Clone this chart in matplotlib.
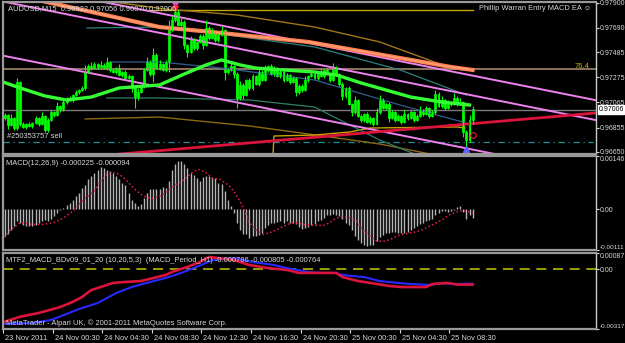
import numpy as np
import matplotlib
matplotlib.use("Agg")
from matplotlib import pyplot as plt
from matplotlib import transforms

plt.rcParams['font.family'] = ['Liberation Sans', 'DejaVu Sans']

# ---- price data (AUDUSD M15) ----
first_open = 0.96935
close = [0.96960, 0.96876, 0.96935, 0.96851, 0.97237, 0.96885, 0.96860, 0.96885, 0.96868, 0.96893,
         0.96935, 0.96885, 0.96952, 0.96834, 0.96918, 0.96985, 0.96960, 0.97036, 0.97002, 0.97069,
         0.97103, 0.97086, 0.97128, 0.97153, 0.97170, 0.97187, 0.97321, 0.97371, 0.97354, 0.97388,
         0.97363, 0.97380, 0.97354, 0.97405, 0.97338, 0.97321, 0.97354, 0.97296, 0.97321, 0.97271,
         0.97287, 0.97187, 0.97103, 0.97153, 0.97203, 0.97338, 0.97405, 0.97304, 0.97464, 0.97354,
         0.97388, 0.97338, 0.97405, 0.97673, 0.97757, 0.97824, 0.97715, 0.97740, 0.97547, 0.97489,
         0.97589, 0.97522, 0.97573, 0.97623, 0.97547, 0.97690, 0.97606, 0.97657, 0.97589, 0.97631,
         0.97673, 0.97321, 0.97338, 0.97371, 0.97304, 0.97103, 0.97212, 0.97128, 0.97254, 0.97187,
         0.97287, 0.97220, 0.97321, 0.97254, 0.97338, 0.97371, 0.97304, 0.97354, 0.97287, 0.97321,
         0.97254, 0.97296, 0.97237, 0.97271, 0.97153, 0.97203, 0.97170, 0.97254, 0.97287, 0.97304,
         0.97271, 0.97321, 0.97287, 0.97338, 0.97304, 0.97254, 0.97354, 0.97304, 0.97220, 0.97120,
         0.97187, 0.97052, 0.96985, 0.97086, 0.96952, 0.96918, 0.96969, 0.96901, 0.96935, 0.96885,
         0.96985, 0.97086, 0.97019, 0.97052, 0.96935, 0.96985, 0.96918, 0.96952, 0.96901, 0.96969,
         0.96935, 0.96985, 0.96918, 0.96952, 0.97002, 0.96969, 0.97019, 0.96952, 0.96985, 0.97136,
         0.97036, 0.97086, 0.97019, 0.97069, 0.97052, 0.97103, 0.97052, 0.97069, 0.96818, 0.96750,
         0.96918, 0.97006]
# wick lengths in pips above / below candle bodies
wick_hi = [2, 1, 3, 1, 3, 1, 2, 1, 2, 1, 2, 1, 3, 1, 2, 2, 1, 3, 1, 2,
           1, 2, 1, 2, 1, 2, 6, 2, 3, 2, 1, 3, 2, 4, 1, 2, 1, 3, 1, 2,
           2, 1, 2, 3, 1, 2, 4, 2, 6, 2, 3, 1, 2, 8, 3, 6, 2, 3, 2, 1,
           3, 2, 1, 2, 2, 7, 2, 3, 1, 2, 3, 1, 2, 3, 1, 2, 3, 2, 1, 2,
           2, 1, 3, 2, 4, 1, 2, 2, 1, 3, 1, 2, 1, 2, 1, 2, 2, 3, 1, 2,
           2, 1, 3, 1, 2, 1, 4, 2, 1, 2, 1, 2, 1, 3, 1, 2, 1, 2, 2, 1,
           3, 4, 2, 1, 2, 2, 1, 2, 1, 3, 1, 2, 1, 2, 3, 1, 2, 1, 2, 3,
           2, 3, 1, 2, 1, 4, 2, 3, 1, 2, 4, 3]
wick_lo = [2, 3, 1, 2, 2, 2, 1, 2, 1, 2, 1, 2, 1, 2, 2, 1, 2, 1, 2, 1,
           2, 1, 2, 1, 2, 1, 2, 1, 2, 1, 2, 1, 1, 2, 2, 1, 2, 1, 2, 2,
           1, 3, 8, 2, 1, 2, 1, 2, 7, 1, 2, 1, 2, 8, 1, 2, 1, 2, 3, 4,
           1, 2, 2, 1, 3, 1, 2, 1, 2, 2, 1, 7, 2, 1, 3, 8, 2, 3, 1, 2,
           2, 1, 2, 1, 1, 2, 1, 2, 1, 2, 2, 1, 2, 1, 3, 2, 2, 1, 2, 1,
           1, 2, 1, 2, 1, 2, 1, 2, 2, 3, 2, 1, 3, 2, 1, 2, 2, 1, 2, 2,
           1, 2, 1, 2, 3, 1, 2, 1, 2, 1, 2, 1, 2, 1, 1, 2, 1, 2, 1, 2,
           1, 2, 2, 1, 2, 1, 2, 1, 4, 8, 2, 3]

# indicator lines on the price chart: (bar, price) anchor points
ma_green_x = [-0.5, 5, 13, 20, 28, 37, 50, 58, 65, 70, 76, 81, 90, 100, 107, 115, 123, 131, 141, 150]
ma_green_y = [0.97237, 0.97187, 0.97120, 0.97086, 0.97111, 0.97187, 0.97212, 0.97304, 0.97380, 0.97422,
              0.97380, 0.97354, 0.97338, 0.97321, 0.97296, 0.97229, 0.97170, 0.97111, 0.97069, 0.97044]
ma_salmon_x = [10, 12, 50, 65, 98, 144, 151]
ma_salmon_y = [0.97925, 0.97917, 0.97698, 0.97661, 0.97573, 0.97363, 0.97338]
gold_upper_x = [35, 52, 75, 100, 121, 144, 148]
gold_upper_y = [0.97908, 0.97849, 0.97799, 0.97698, 0.97573, 0.97354, 0.97338]
gold_lower_x = [26, 50, 79, 98, 121, 134, 142]
gold_lower_y = [0.96927, 0.96943, 0.96868, 0.96801, 0.96717, 0.96650, 0.96608]
gold_step_x = [86.6, 86.9, 100, 111.5, 118, 146, 148.5]
gold_step_y = [0.96616, 0.96784, 0.96792, 0.96818, 0.96851, 0.96860, 0.96851]
band_up_x = [26.6, 50, 65, 100, 127.6, 149]
band_up_y = [0.97690, 0.97698, 0.97657, 0.97531, 0.97338, 0.97128]
band_mid_x = [34, 50, 70, 100, 127.6, 149]
band_mid_y = [0.97405, 0.97405, 0.97354, 0.97254, 0.97044, 0.96893]
band_lo_x = [33, 50, 79, 100, 121, 134]
band_lo_y = [0.97103, 0.97103, 0.97086, 0.97027, 0.96750, 0.96616]
yellow_top = (47, 151, 0.97841)

# trend lines: ((bar, price), (bar, price))
channel = [((-0.5, 0.98076), (190.8, 0.97084)),
           ((-0.5, 0.97912), (190.8, 0.96917)),
           ((-0.5, 0.97458), (190.8, 0.96463))]
crimson_line = ((37, 0.96632), (190.8, 0.96977))
fib_764 = 0.97344
bid_price = 0.97006
order_price = 0.96736

price_ticks = [0.96650, 0.96855, 0.97065, 0.97275, 0.97485, 0.97690, 0.97900]

# ---- MACD(12,26,9) ----
macd_hist = [-0.00073, -0.00068, -0.00055, -0.00046, -0.00032, -0.00036, -0.00043, -0.00046, -0.00046, -0.00046,
             -0.00043, -0.00036, -0.00032, -0.00030, -0.00032, -0.00025, -0.00018, -0.00009, -0.00001, 0.00005,
             0.00012, 0.00018, 0.00027, 0.00036, 0.00046, 0.00059, 0.00068, 0.00082, 0.00091, 0.00100,
             0.00109, 0.00116, 0.00114, 0.00109, 0.00105, 0.00100, 0.00091, 0.00082, 0.00073, 0.00068,
             0.00046, 0.00027, 0.00018, 0.00009, 0.00014, 0.00032, 0.00046, 0.00055, 0.00055, 0.00055,
             0.00055, 0.00061, 0.00059, 0.00077, 0.00109, 0.00123, 0.00132, 0.00132, 0.00123, 0.00114,
             0.00100, 0.00094, 0.00086, 0.00077, 0.00088, 0.00091, 0.00091, 0.00088, 0.00085, 0.00073,
             0.00070, 0.00050, 0.00027, 0.00009, -0.00009, -0.00036, -0.00055, -0.00068, -0.00068, -0.00077,
             -0.00073, -0.00073, -0.00070, -0.00064, -0.00052, -0.00044, -0.00038, -0.00036, -0.00035, -0.00032,
             -0.00036, -0.00032, -0.00036, -0.00036, -0.00040, -0.00047, -0.00053, -0.00052, -0.00047, -0.00043,
             -0.00039, -0.00032, -0.00030, -0.00023, -0.00014, -0.00014, -0.00012, -0.00014, -0.00017, -0.00025,
             -0.00036, -0.00044, -0.00055, -0.00073, -0.00085, -0.00092, -0.00096, -0.00100, -0.00096, -0.00096,
             -0.00086, -0.00075, -0.00069, -0.00065, -0.00064, -0.00061, -0.00061, -0.00064, -0.00064, -0.00064,
             -0.00062, -0.00056, -0.00050, -0.00046, -0.00041, -0.00036, -0.00032, -0.00030, -0.00025, -0.00015,
             -0.00009, -0.00005, -0.00005, -0.00006, -0.00005, -0.00003, 0.00006, 0.00009, -0.00006, -0.00027,
             -0.00015, -0.00023]
signal_x = [0, 2, 5, 9, 12.5, 16, 19, 22, 25, 29, 31, 33, 35, 37, 39, 41.5, 44, 46, 48, 50, 52, 54.5, 58,
            61, 63, 65, 67, 69.5, 72, 74, 75, 77, 79, 81.5, 83.5, 85.5, 88, 90, 92, 94, 96.5, 98.5, 101,
            103, 105, 107, 109, 111.5, 113.5, 115.5, 118, 120, 122, 124.5, 126.5, 128.5, 131, 133, 135,
            137, 139.5, 141.5, 143.5, 146, 148, 151]
signal_y = [-0.00077, -0.00055, -0.00036, -0.00041, -0.00041, -0.00036, -0.00023, -0.00005, 0.00023, 0.00050,
            0.00077, 0.00096, 0.00100, 0.00096, 0.00082, 0.00059, 0.00041, 0.00032, 0.00030, 0.00036,
            0.00046, 0.00064, 0.00082, 0.00105, 0.00109, 0.00100, 0.00086, 0.00082, 0.00068, 0.00050,
            0.00036, 0.00005, -0.00036, -0.00059, -0.00068, -0.00064, -0.00055, -0.00046, -0.00039, -0.00036,
            -0.00041, -0.00043, -0.00044, -0.00044, -0.00036, -0.00023, -0.00021, -0.00023, -0.00032, -0.00055,
            -0.00073, -0.00086, -0.00088, -0.00082, -0.00073, -0.00068, -0.00064, -0.00061, -0.00055, -0.00046,
            -0.00036, -0.00027, -0.00015, -0.00006, -0.00003, -0.00009]

# ---- MTF MACD (H1) ----
mtf_red_x = [0, 5, 11, 18, 22, 25, 28, 31, 35, 39, 44, 48, 52, 54, 59, 63, 66, 69, 74, 79, 85, 91, 95,
             102, 107, 109, 114, 118, 124, 128, 136, 138, 143, 146, 151]
mtf_red_y = [-0.00278, -0.00252, -0.00232, -0.00200, -0.00173, -0.00147, -0.00110, -0.00094, -0.00072,
             -0.00067, -0.00062, -0.00046, -0.00030, -0.00014, 0.00013, 0.00039, 0.00066, 0.00060, 0.00050,
             0.00023, 0.00007, -0.00003, -0.00019, -0.00019, -0.00019, -0.00041, -0.00062, -0.00072, -0.00088,
             -0.00094, -0.00094, -0.00078, -0.00072, -0.00081, -0.00081]
mtf_blue_x = [0, 9, 15, 20, 24, 30, 36, 41, 47, 52, 57, 61, 65, 67, 74, 80, 87, 91, 98, 102, 107, 109,
              116, 121, 127, 131, 138, 140, 145, 151]
mtf_blue_y = [-0.00290, -0.00285, -0.00269, -0.00237, -0.00211, -0.00179, -0.00126, -0.00094, -0.00067,
              -0.00046, -0.00019, 0.00007, 0.00034, 0.00050, 0.00060, 0.00039, 0.00023, 0.00007, -0.00014,
              -0.00019, -0.00019, -0.00030, -0.00041, -0.00062, -0.00072, -0.00078, -0.00083, -0.00072,
              -0.00078, -0.00076]

time_bars = [0, 16, 32, 48, 64, 80, 96, 112, 128, 144]
time_labels = ['23 Nov 2011', '24 Nov 00:30', '24 Nov 04:30', '24 Nov 08:30', '24 Nov 12:30',
               '24 Nov 16:30', '24 Nov 20:30', '25 Nov 00:30', '25 Nov 04:30', '25 Nov 08:30']

# ---- figure ----
W, H = 625, 343
fig = plt.figure(figsize=(W / 100, H / 100), dpi=100, facecolor='black')
TXT = '#D8D8D8'
FS = 5.4
FSY = 5.0
XL = (-0.5, 190.8)


def panel(top, bottom):
    ax = fig.add_axes([3 / W, 1 - bottom / H, 593 / W, (bottom - top) / H])
    ax.set_facecolor('black')
    ax.set_xlim(*XL)
    for s in ['top', 'bottom', 'left']:
        ax.spines[s].set_color('#9A9A9A')
        ax.spines[s].set_linewidth(1.6)
    ax.spines['right'].set_color('#C8C8C8')
    ax.spines['right'].set_linewidth(1.0)
    ax.yaxis.tick_right()
    ax.tick_params(axis='y', colors=TXT, labelsize=FSY, length=2, pad=1.0, width=0.8)
    ax.tick_params(axis='x', bottom=False, labelbottom=False)
    return ax


ax1 = panel(2, 154)
ax2 = panel(156, 250)
ax3 = panel(253, 329)

# price panel
ax1.set_ylim(0.96633, 0.97908)
ax1.set_yticks(price_ticks)
ax1.set_yticklabels(['%.5f' % v for v in price_ticks])

ax1.axhline(fib_764, color='#A08868', lw=1.2)
ax1.axhline(bid_price, color='#7A7A7A', lw=1.0)
ax1.axhline(order_price, xmax=0.995, color='#2090A0', lw=0.9, ls=(0, (5, 3, 1, 3)))
ax1.plot([yellow_top[0], yellow_top[1]], [yellow_top[2]] * 2, color='#BFA800', lw=1)
ax1.plot(gold_upper_x, gold_upper_y, color='#A07818', lw=1)
ax1.plot(gold_lower_x, gold_lower_y, color='#8B6914', lw=1)
ax1.plot(gold_step_x, gold_step_y, color='#C8A000', lw=1)
ax1.plot(band_up_x, band_up_y, color='#2F8080', lw=0.9)
ax1.plot(band_mid_x, band_mid_y, color='#2F5F8F', lw=0.9)
ax1.plot(band_lo_x, band_lo_y, color='#2E7F6B', lw=0.9)
for (x0, y0), (x1, y1) in channel:
    ax1.plot([x0, x1], [y0, y1], color='#EE82EE', lw=1.4)
ax1.plot(ma_salmon_x, ma_salmon_y, color='#FF7F50', lw=3.0)
ax1.plot(ma_salmon_x, ma_salmon_y, color='#FFA07A', lw=1.0)
ax1.plot([crimson_line[0][0], crimson_line[1][0]], [crimson_line[0][1], crimson_line[1][1]],
         color='#DC143C', lw=2.0)

c = np.array(close)
o = np.concatenate([[first_open], c[:-1]])
hi = np.maximum(o, c) + np.array(wick_hi) * 0.0001
lo = np.minimum(o, c) - np.array(wick_lo) * 0.0001
idx = np.arange(len(c))
ax1.vlines(idx, lo, hi, color='#00FF00', lw=0.8)
up = c >= o
ax1.bar(idx[up], (c - o)[up] + 0.00002, bottom=o[up], width=0.62, facecolor='black',
        edgecolor='#00FF00', lw=0.6)
ax1.bar(idx[~up], (c - o)[~up], bottom=o[~up], width=0.62, facecolor='#22CC22',
        edgecolor='#00FF00', lw=0.6)
ax1.plot(ma_green_x, ma_green_y, color='#33FF33', lw=2.4)

ax1.plot([55], [hi[55] + 0.00004], marker='v', color='#FF40FF', ms=5)
ax1.plot([55], [hi[55] - 0.00020], marker='*', color='#FF2040', ms=4)
ax1.plot([149], [lo[149] + 0.00008], marker='^', color='#6060FF', ms=4)
ax1.plot([151], [0.96792], marker='o', mfc='none', mec='#FF2020', ms=4, mew=0.8)

ax1.text(1.004, bid_price, '%.5f' % bid_price, transform=ax1.get_yaxis_transform(),
         fontsize=FSY, color='black', va='center', ha='left', zorder=10, clip_on=False,
         bbox=dict(boxstyle='square,pad=0.1', fc='white', ec='white'))

fig.text(8 / W, 1 - 9 / H, 'AUDUSD,M15  0.96922 0.97056 0.96870 0.97006', color=TXT,
         fontsize=FS, va='center', ha='left')
fig.text(591 / W, 1 - 9 / H, 'Phillip Warran Entry MACD EA ☺', color=TXT,
         fontsize=FS, va='center', ha='right')
fig.text(589 / W, 1 - 66 / H, '76.4', color='#C8B400', fontsize=FS, va='center', ha='right')
fig.text(7 / W, 1 - 137 / H, '#250353757 sell', color=TXT, fontsize=FS, va='center', ha='left')

# MACD panel
ax2.set_ylim(-0.00111, 0.00146)
ax2.vlines(idx, 0, macd_hist, color='#B4B4B4', lw=1.0)
ax2.plot(signal_x, signal_y, color='#E8204A', lw=1.1, ls=(0, (1, 1.6)))
ax2.set_yticks([0.00146, 0.0, -0.00111])
ax2.set_yticklabels(['0.00146', '0.00', '-0.00111'])
labs = ax2.get_yticklabels()
labs[0].set_va('top')
labs[2].set_va('bottom')
labs[2].set_fontsize(4.6)
fig.text(6 / W, 1 - 163 / H, 'MACD(12,26,9) -0.000225 -0.000094', color=TXT, fontsize=FS,
         va='center', ha='left')

# MTF panel
ax3.set_ylim(-0.00317, 0.00087)
ax3.axhline(0, color='#B8B800', lw=1.2, ls=(0, (6, 4)))
ax3.plot(mtf_blue_x, mtf_blue_y, color='#2828FF', lw=1.5)
ax3.plot(mtf_red_x, mtf_red_y, color='#DC143C', lw=1.9)
ax3.set_yticks([0.00087, 0.0, -0.00317])
ax3.set_yticklabels(['0.00087', '0.00', '-0.00317'])
labs = ax3.get_yticklabels()
labs[0].set_va('top')
labs[2].set_va('bottom')
labs[2].set_fontsize(4.6)
fig.text(6 / W, 1 - 261 / H,
         'MTF2_MACD_BDv09_01_20 (10,20,5,3)  (MACD_Period_H1) -0.000786 -0.000805 -0.000764',
         color=TXT, fontsize=FS, va='center', ha='left')
fig.text(6 / W, 1 - 323 / H, 'MetaTrader - Alpari UK, © 2001-2011 MetaQuotes Software Corp.',
         color=TXT, fontsize=FS, va='center', ha='left')

ax3.set_xticks([b - 0.5 for b in time_bars])
ax3.set_xticklabels(time_labels, ha='left')
ax3.tick_params(axis='x', bottom=True, labelbottom=True, colors=TXT, labelsize=FS,
                length=3, width=0.8, pad=1.5)
shift = transforms.ScaledTranslation(2 / 100, 0, fig.dpi_scale_trans)
for lab in ax3.get_xticklabels():
    lab.set_transform(lab.get_transform() + shift)

fig.savefig('out.png', dpi=100, facecolor='black')
